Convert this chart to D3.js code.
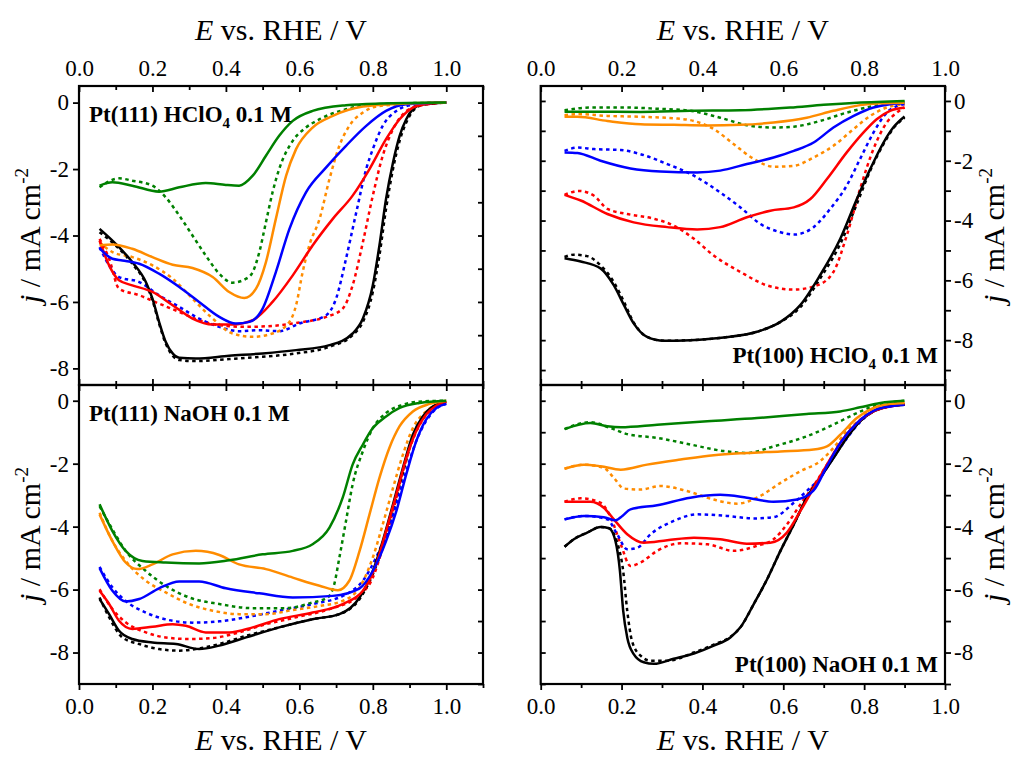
<!DOCTYPE html>
<html><head><meta charset="utf-8">
<script src="https://cdn.jsdelivr.net/npm/d3@7"></script>
<style>
body{margin:0;background:#fff}
svg{display:block}
text{font-family:"Liberation Serif","Times New Roman",serif;fill:#000}
</style>
</head><body>
<svg id="chart" width="1016" height="758"></svg>
<script>
// ---------------- DATA (E / V vs RHE , j / mA cm^-2) ----------------
// Pt(111) HClO4 0.1 M
const A_black   = [[0.056,-3.8],[0.1,-4.25],[0.145,-4.8],[0.182,-5.4],[0.2,-5.9],[0.218,-6.6],[0.236,-7.2],[0.255,-7.55],[0.273,-7.68],[0.318,-7.7],[0.409,-7.62],[0.5,-7.55],[0.591,-7.45],[0.682,-7.3],[0.745,-6.95],[0.773,-6.5],[0.8,-5.5],[0.818,-4.3],[0.836,-2.9],[0.855,-1.8],[0.873,-1.0],[0.891,-0.5],[0.909,-0.2],[0.936,-0.05],[1.0,0.0]];
const A_black_d = [[0.056,-3.9],[0.1,-4.3],[0.145,-4.85],[0.182,-5.45],[0.2,-5.95],[0.218,-6.65],[0.236,-7.25],[0.255,-7.62],[0.273,-7.75],[0.318,-7.78],[0.409,-7.72],[0.5,-7.65],[0.591,-7.55],[0.682,-7.35],[0.745,-7.0],[0.773,-6.6],[0.8,-5.7],[0.818,-4.6],[0.836,-3.2],[0.855,-2.0],[0.873,-1.15],[0.891,-0.6],[0.909,-0.25],[0.936,-0.07],[1.0,0.0]];
const A_red     = [[0.056,-4.15],[0.082,-4.9],[0.109,-5.35],[0.145,-5.5],[0.2,-5.7],[0.255,-6.1],[0.309,-6.5],[0.364,-6.68],[0.418,-6.68],[0.473,-6.55],[0.527,-6.0],[0.582,-5.2],[0.636,-4.3],[0.691,-3.5],[0.745,-2.8],[0.791,-2.0],[0.836,-1.1],[0.873,-0.5],[0.909,-0.15],[0.945,-0.04],[1.0,0.0]];
const A_red_d   = [[0.056,-4.1],[0.082,-4.7],[0.109,-5.6],[0.164,-5.8],[0.218,-6.05],[0.273,-6.3],[0.327,-6.55],[0.382,-6.7],[0.455,-6.75],[0.527,-6.72],[0.6,-6.62],[0.673,-6.45],[0.718,-6.2],[0.745,-5.5],[0.773,-4.2],[0.8,-2.8],[0.827,-1.6],[0.855,-0.8],[0.882,-0.35],[0.918,-0.12],[1.0,0.0]];
const A_blue    = [[0.056,-4.38],[0.091,-4.7],[0.118,-4.75],[0.164,-4.85],[0.218,-5.15],[0.273,-5.55],[0.327,-6.0],[0.382,-6.45],[0.427,-6.65],[0.464,-6.6],[0.5,-6.2],[0.536,-5.1],[0.573,-3.8],[0.618,-2.7],[0.673,-1.95],[0.727,-1.3],[0.782,-0.7],[0.836,-0.25],[0.891,-0.05],[1.0,0.0]];
const A_blue_d  = [[0.056,-4.35],[0.091,-5.05],[0.109,-5.25],[0.164,-5.4],[0.218,-5.8],[0.273,-6.15],[0.327,-6.5],[0.382,-6.75],[0.436,-6.88],[0.491,-6.85],[0.545,-6.88],[0.6,-6.65],[0.673,-6.4],[0.7,-5.9],[0.727,-4.7],[0.755,-3.3],[0.782,-2.0],[0.8,-1.4],[0.827,-0.7],[0.864,-0.25],[0.909,-0.07],[1.0,0.0]];
const A_orange  = [[0.056,-4.3],[0.091,-4.27],[0.145,-4.4],[0.2,-4.65],[0.255,-4.88],[0.309,-4.98],[0.364,-5.25],[0.409,-5.7],[0.45,-5.88],[0.482,-5.6],[0.509,-4.8],[0.536,-3.5],[0.564,-2.2],[0.591,-1.4],[0.636,-0.75],[0.691,-0.4],[0.773,-0.12],[0.864,-0.04],[1.0,0.0]];
const A_orange_d= [[0.056,-4.2],[0.091,-4.5],[0.145,-4.65],[0.2,-4.9],[0.255,-5.3],[0.309,-5.9],[0.364,-6.5],[0.418,-6.95],[0.473,-7.05],[0.527,-6.95],[0.573,-6.6],[0.591,-6.1],[0.609,-5.1],[0.627,-4.3],[0.655,-3.5],[0.682,-2.3],[0.709,-1.3],[0.736,-0.7],[0.773,-0.3],[0.818,-0.1],[1.0,0.0]];
const A_green   = [[0.056,-2.5],[0.091,-2.4],[0.145,-2.5],[0.218,-2.68],[0.273,-2.55],[0.345,-2.42],[0.4,-2.48],[0.436,-2.5],[0.473,-2.2],[0.509,-1.6],[0.545,-1.0],[0.582,-0.55],[0.636,-0.25],[0.727,-0.08],[0.818,-0.03],[1.0,0.0]];
const A_green_d = [[0.056,-2.55],[0.109,-2.28],[0.145,-2.35],[0.2,-2.5],[0.236,-2.85],[0.273,-3.4],[0.309,-4.0],[0.345,-4.6],[0.382,-5.15],[0.418,-5.42],[0.455,-5.3],[0.473,-5.1],[0.491,-4.5],[0.509,-3.6],[0.527,-2.7],[0.545,-2.0],[0.582,-1.15],[0.618,-0.75],[0.655,-0.5],[0.727,-0.2],[0.818,-0.05],[1.0,0.0]];

// Pt(100) HClO4 0.1 M
const B_black   = [[0.059,-5.26],[0.099,-5.37],[0.148,-5.6],[0.181,-6.17],[0.206,-6.83],[0.23,-7.44],[0.263,-7.89],[0.305,-8.02],[0.37,-8.0],[0.453,-7.91],[0.535,-7.72],[0.593,-7.39],[0.642,-6.83],[0.691,-5.83],[0.741,-4.61],[0.782,-3.28],[0.815,-2.28],[0.848,-1.39],[0.872,-0.89],[0.9,-0.52]];
const B_black_d = [[0.059,-5.22],[0.082,-5.14],[0.115,-5.19],[0.148,-5.5],[0.181,-6.06],[0.206,-6.72],[0.23,-7.41],[0.263,-7.89],[0.305,-8.02],[0.37,-8.0],[0.453,-7.91],[0.535,-7.72],[0.593,-7.39],[0.642,-6.9],[0.691,-5.94],[0.741,-4.78],[0.782,-3.44],[0.815,-2.33],[0.848,-1.44],[0.872,-0.92],[0.9,-0.56]];
const B_red     = [[0.059,-3.14],[0.099,-3.33],[0.165,-3.78],[0.23,-4.06],[0.313,-4.22],[0.387,-4.3],[0.444,-4.22],[0.51,-3.89],[0.568,-3.67],[0.626,-3.56],[0.667,-3.28],[0.708,-2.61],[0.757,-1.72],[0.798,-1.06],[0.831,-0.61],[0.864,-0.33],[0.9,-0.22]];
const B_red_d   = [[0.059,-3.14],[0.095,-3.01],[0.132,-3.17],[0.165,-3.61],[0.214,-3.78],[0.28,-3.94],[0.329,-4.17],[0.379,-4.61],[0.428,-5.17],[0.494,-5.72],[0.56,-6.17],[0.626,-6.31],[0.683,-6.17],[0.724,-5.72],[0.757,-4.5],[0.79,-2.94],[0.823,-1.61],[0.856,-0.72],[0.881,-0.39],[0.9,-0.22]];
const B_blue    = [[0.059,-1.72],[0.091,-1.74],[0.148,-2.0],[0.222,-2.26],[0.296,-2.36],[0.387,-2.39],[0.444,-2.33],[0.51,-2.11],[0.576,-1.89],[0.626,-1.67],[0.675,-1.39],[0.724,-0.89],[0.774,-0.5],[0.823,-0.22],[0.864,-0.11],[0.9,-0.08]];
const B_blue_d  = [[0.059,-1.67],[0.091,-1.56],[0.132,-1.61],[0.198,-1.64],[0.247,-1.78],[0.313,-2.11],[0.379,-2.5],[0.444,-3.06],[0.494,-3.56],[0.543,-4.11],[0.593,-4.39],[0.626,-4.47],[0.675,-4.22],[0.716,-3.61],[0.757,-2.83],[0.79,-1.94],[0.823,-1.06],[0.856,-0.39],[0.881,-0.17],[0.9,-0.11]];
const B_orange  = [[0.059,-0.53],[0.091,-0.53],[0.165,-0.67],[0.247,-0.78],[0.329,-0.8],[0.412,-0.82],[0.494,-0.8],[0.576,-0.72],[0.658,-0.56],[0.724,-0.33],[0.79,-0.14],[0.84,-0.08],[0.9,-0.06]];
const B_orange_d= [[0.059,-0.48],[0.091,-0.44],[0.165,-0.5],[0.247,-0.53],[0.329,-0.58],[0.379,-0.67],[0.428,-0.94],[0.477,-1.44],[0.527,-1.94],[0.576,-2.2],[0.626,-2.17],[0.675,-1.89],[0.724,-1.5],[0.774,-0.94],[0.815,-0.5],[0.856,-0.22],[0.9,-0.11]];
const B_green   = [[0.059,-0.36],[0.123,-0.36],[0.247,-0.37],[0.37,-0.33],[0.494,-0.31],[0.617,-0.22],[0.7,-0.13],[0.782,-0.06],[0.9,0.0]];
const B_green_d = [[0.059,-0.31],[0.123,-0.22],[0.206,-0.22],[0.288,-0.26],[0.37,-0.33],[0.444,-0.56],[0.51,-0.81],[0.576,-0.89],[0.626,-0.86],[0.691,-0.67],[0.757,-0.39],[0.823,-0.17],[0.9,-0.02]];

// Pt(111) NaOH 0.1 M
const C_black   = [[0.056,-6.3],[0.082,-6.78],[0.109,-7.31],[0.145,-7.57],[0.2,-7.68],[0.264,-7.73],[0.327,-7.89],[0.382,-7.78],[0.455,-7.52],[0.545,-7.2],[0.636,-6.94],[0.709,-6.78],[0.764,-6.25],[0.8,-5.41],[0.827,-4.46],[0.855,-3.29],[0.882,-2.13],[0.909,-1.08],[0.936,-0.5],[0.964,-0.18],[1.0,-0.04]];
const C_black_d = [[0.056,-6.25],[0.082,-6.88],[0.118,-7.52],[0.164,-7.73],[0.218,-7.89],[0.273,-7.94],[0.318,-7.89],[0.382,-7.73],[0.455,-7.47],[0.545,-7.2],[0.636,-6.94],[0.709,-6.78],[0.764,-6.3],[0.8,-5.51],[0.827,-4.67],[0.855,-3.51],[0.882,-2.29],[0.909,-1.18],[0.936,-0.55],[0.964,-0.21],[1.0,-0.05]];
const C_red     = [[0.056,-6.04],[0.082,-6.46],[0.109,-6.99],[0.145,-7.25],[0.2,-7.18],[0.255,-7.1],[0.291,-7.15],[0.345,-7.36],[0.409,-7.36],[0.473,-7.2],[0.545,-6.94],[0.636,-6.73],[0.718,-6.46],[0.773,-6.04],[0.809,-5.2],[0.836,-4.14],[0.864,-2.98],[0.891,-1.82],[0.918,-0.97],[0.945,-0.44],[0.973,-0.15],[1.0,-0.02]];
const C_red_d   = [[0.056,-5.99],[0.091,-6.62],[0.127,-7.04],[0.182,-7.36],[0.236,-7.52],[0.3,-7.57],[0.364,-7.54],[0.436,-7.36],[0.509,-7.1],[0.591,-6.88],[0.682,-6.62],[0.755,-6.25],[0.8,-5.62],[0.827,-4.67],[0.855,-3.51],[0.882,-2.24],[0.909,-1.24],[0.936,-0.6],[0.964,-0.23],[1.0,-0.04]];
const C_blue    = [[0.056,-5.32],[0.091,-6.04],[0.127,-6.38],[0.164,-6.3],[0.218,-5.96],[0.273,-5.74],[0.327,-5.74],[0.4,-5.96],[0.491,-6.12],[0.582,-6.25],[0.691,-6.2],[0.764,-5.96],[0.8,-5.41],[0.836,-4.46],[0.864,-3.51],[0.891,-2.34],[0.918,-1.29],[0.945,-0.6],[0.973,-0.23],[1.0,-0.1]];
const C_blue_d  = [[0.056,-5.28],[0.091,-5.93],[0.127,-6.36],[0.182,-6.73],[0.245,-6.97],[0.309,-7.05],[0.382,-7.01],[0.455,-6.88],[0.545,-6.67],[0.636,-6.46],[0.727,-6.15],[0.773,-5.72],[0.809,-4.98],[0.836,-4.24],[0.864,-3.29],[0.891,-2.24],[0.918,-1.29],[0.945,-0.65],[0.973,-0.25],[1.0,-0.1]];
const C_orange  = [[0.056,-3.61],[0.091,-4.46],[0.127,-5.14],[0.159,-5.35],[0.2,-5.2],[0.255,-4.88],[0.318,-4.77],[0.382,-4.9],[0.436,-5.2],[0.509,-5.35],[0.582,-5.62],[0.655,-5.88],[0.705,-6.02],[0.736,-5.72],[0.764,-4.77],[0.791,-3.61],[0.818,-2.45],[0.845,-1.5],[0.873,-0.81],[0.909,-0.34],[0.955,-0.1],[1.0,0.0]];
const C_orange_d= [[0.056,-3.56],[0.091,-4.46],[0.127,-5.09],[0.182,-5.72],[0.236,-6.09],[0.3,-6.46],[0.364,-6.67],[0.436,-6.78],[0.509,-6.78],[0.582,-6.65],[0.655,-6.52],[0.718,-6.36],[0.764,-5.93],[0.8,-4.98],[0.827,-3.93],[0.855,-2.77],[0.882,-1.71],[0.909,-0.87],[0.945,-0.34],[1.0,-0.03]];
const C_green   = [[0.056,-3.29],[0.091,-4.14],[0.127,-4.77],[0.173,-5.09],[0.236,-5.14],[0.327,-5.17],[0.409,-5.07],[0.5,-4.88],[0.582,-4.77],[0.636,-4.56],[0.682,-4.03],[0.718,-3.08],[0.745,-2.03],[0.773,-1.39],[0.8,-0.87],[0.836,-0.5],[0.873,-0.23],[0.927,-0.07],[1.0,0.0]];
const C_green_d = [[0.056,-3.35],[0.091,-4.09],[0.127,-4.77],[0.182,-5.41],[0.236,-5.88],[0.3,-6.25],[0.382,-6.46],[0.473,-6.59],[0.564,-6.59],[0.636,-6.41],[0.677,-6.25],[0.695,-5.83],[0.709,-4.98],[0.727,-3.82],[0.745,-2.66],[0.773,-1.6],[0.8,-0.87],[0.836,-0.39],[0.882,-0.13],[0.936,-0.02],[1.0,0.0]];

// Pt(100) NaOH 0.1 M
const D_black   = [[0.059,-4.64],[0.082,-4.4],[0.115,-4.19],[0.148,-4.01],[0.169,-4.05],[0.185,-4.46],[0.196,-5.41],[0.204,-6.67],[0.214,-7.52],[0.23,-8.05],[0.255,-8.31],[0.28,-8.36],[0.329,-8.2],[0.379,-8.03],[0.428,-7.78],[0.469,-7.52],[0.494,-7.2],[0.527,-6.46],[0.56,-5.67],[0.593,-4.77],[0.626,-3.93],[0.658,-3.08],[0.691,-2.45],[0.724,-1.82],[0.757,-1.18],[0.79,-0.65],[0.823,-0.34],[0.856,-0.19],[0.9,-0.13]];
const D_black_d = [[0.059,-4.64],[0.082,-4.4],[0.115,-4.19],[0.148,-4.01],[0.169,-4.05],[0.189,-4.5],[0.204,-5.41],[0.214,-6.67],[0.226,-7.64],[0.247,-8.1],[0.272,-8.26],[0.313,-8.26],[0.379,-8.0],[0.428,-7.75],[0.469,-7.5],[0.494,-7.2],[0.527,-6.46],[0.56,-5.67],[0.593,-4.77],[0.626,-3.93],[0.658,-3.08],[0.691,-2.45],[0.724,-1.82],[0.757,-1.18],[0.79,-0.65],[0.823,-0.34],[0.856,-0.19],[0.9,-0.13]];
const D_red     = [[0.059,-3.21],[0.123,-3.21],[0.156,-3.4],[0.181,-3.77],[0.214,-4.24],[0.255,-4.51],[0.313,-4.43],[0.379,-4.35],[0.444,-4.4],[0.51,-4.54],[0.568,-4.51],[0.609,-4.19],[0.642,-3.51],[0.675,-2.77],[0.708,-2.03],[0.741,-1.34],[0.782,-0.71],[0.823,-0.34],[0.864,-0.18],[0.9,-0.11]];
const D_red_d   = [[0.059,-3.21],[0.099,-3.1],[0.148,-3.24],[0.173,-3.7],[0.198,-4.56],[0.222,-5.25],[0.247,-5.14],[0.288,-4.77],[0.346,-4.53],[0.412,-4.56],[0.477,-4.77],[0.535,-4.61],[0.576,-4.4],[0.609,-3.93],[0.642,-3.3],[0.675,-2.7],[0.708,-2.03],[0.741,-1.34],[0.782,-0.71],[0.823,-0.34],[0.864,-0.18],[0.9,-0.11]];
const D_blue    = [[0.059,-3.77],[0.107,-3.66],[0.156,-3.7],[0.185,-3.8],[0.202,-3.66],[0.222,-3.45],[0.288,-3.32],[0.37,-3.08],[0.444,-2.99],[0.51,-3.08],[0.576,-3.21],[0.634,-3.14],[0.675,-2.85],[0.708,-2.08],[0.741,-1.34],[0.782,-0.71],[0.823,-0.32],[0.864,-0.18],[0.9,-0.13]];
const D_blue_d  = [[0.059,-3.77],[0.107,-3.66],[0.165,-3.77],[0.189,-4.24],[0.214,-4.72],[0.239,-4.67],[0.272,-4.24],[0.329,-3.82],[0.387,-3.61],[0.461,-3.66],[0.527,-3.74],[0.576,-3.7],[0.626,-3.24],[0.658,-2.87],[0.691,-2.45],[0.724,-1.82],[0.757,-1.2],[0.79,-0.68],[0.823,-0.33],[0.864,-0.18],[0.9,-0.13]];
const D_orange  = [[0.059,-2.16],[0.107,-2.03],[0.148,-2.08],[0.198,-2.19],[0.263,-2.03],[0.346,-1.87],[0.428,-1.73],[0.51,-1.66],[0.593,-1.61],[0.675,-1.55],[0.708,-1.45],[0.741,-1.08],[0.782,-0.55],[0.823,-0.23],[0.864,-0.1],[0.9,-0.07]];
const D_orange_d= [[0.059,-2.16],[0.107,-2.03],[0.156,-2.13],[0.181,-2.45],[0.206,-2.79],[0.247,-2.82],[0.296,-2.71],[0.362,-2.87],[0.428,-3.14],[0.486,-3.27],[0.535,-3.08],[0.593,-2.61],[0.642,-2.24],[0.691,-1.92],[0.724,-1.5],[0.757,-0.97],[0.79,-0.6],[0.823,-0.25],[0.864,-0.11],[0.9,-0.07]];
const D_green   = [[0.059,-0.9],[0.123,-0.71],[0.165,-0.81],[0.198,-0.84],[0.288,-0.76],[0.412,-0.65],[0.535,-0.55],[0.658,-0.42],[0.741,-0.34],[0.79,-0.21],[0.84,-0.07],[0.9,0.0]];
const D_green_d = [[0.059,-0.9],[0.123,-0.68],[0.173,-0.87],[0.214,-1.06],[0.288,-1.18],[0.37,-1.39],[0.453,-1.6],[0.51,-1.66],[0.576,-1.45],[0.658,-1.13],[0.724,-0.76],[0.774,-0.44],[0.823,-0.18],[0.9,0.0]];

// tick values / labels
const xMajorTicks = [0,0.2,0.4,0.6,0.8,1.0];
const xMinorLeft  = [0.1,0.3,0.5,0.7,0.9,1.1];
const xMinorRight = [0.1,0.3,0.5,0.7,0.9];
const yLabelTicks = [0,-2,-4,-6,-8];
const panelTitles = ["Pt(111) HClO|4| 0.1 M","Pt(100) HClO|4| 0.1 M","Pt(111) NaOH 0.1 M","Pt(100) NaOH 0.1 M"];
const xTitle = "E vs. RHE / V";

// ---------------- DRAWING ----------------
const COL = {black:"#000000", red:"#ff0000", blue:"#0000ff", orange:"#ff8c00", green:"#008000"};
const svg = d3.select("#chart");
svg.append("rect").attr("width",1016).attr("height",758).attr("fill","#fff");

function seriesList(b,r,bl,o,g,bd,rd,bld,od,gd){
  return [
    {d:bd,c:"black",dash:true},{d:rd,c:"red",dash:true},{d:bld,c:"blue",dash:true},{d:od,c:"orange",dash:true},{d:gd,c:"green",dash:true},
    {d:b,c:"black"},{d:r,c:"red"},{d:bl,c:"blue"},{d:o,c:"orange"},{d:g,c:"green"}
  ];
}

const panels = [
  {id:"A", x0:79, x1:483, y0:86, y1:385, xd:[0,1.1], yd:[-8.5,0.5], col:"left", row:"top",
   series:seriesList(A_black,A_red,A_blue,A_orange,A_green,A_black_d,A_red_d,A_blue_d,A_orange_d,A_green_d),
   title:panelTitles[0], tx:89, ty:122, anchor:"start"},
  {id:"B", x0:540.7, x1:945, y0:86, y1:385, xd:[0,1.0], yd:[-9.5,0.5], col:"right", row:"top",
   series:seriesList(B_black,B_red,B_blue,B_orange,B_green,B_black_d,B_red_d,B_blue_d,B_orange_d,B_green_d),
   title:panelTitles[1], tx:938, ty:363, anchor:"end"},
  {id:"C", x0:79, x1:483, y0:385, y1:684, xd:[0,1.1], yd:[-9,0.5], col:"left", row:"bottom",
   series:seriesList(C_black,C_red,C_blue,C_orange,C_green,C_black_d,C_red_d,C_blue_d,C_orange_d,C_green_d),
   title:panelTitles[2], tx:89, ty:421, anchor:"start"},
  {id:"D", x0:540.7, x1:945, y0:385, y1:684, xd:[0,1.0], yd:[-9,0.5], col:"right", row:"bottom",
   series:seriesList(D_black,D_red,D_blue,D_orange,D_green,D_black_d,D_red_d,D_blue_d,D_orange_d,D_green_d),
   title:panelTitles[3], tx:938, ty:672, anchor:"end"}
];

const TICKFS = 23;
function styleAxis(g){
  g.select(".domain").remove();
  g.selectAll(".tick line").attr("stroke","#000").attr("stroke-width",1.8);
  g.selectAll(".tick text").style("font-family","'Liberation Serif','Times New Roman',serif").style("font-size",TICKFS+"px").attr("fill","#000");
}
const yfmt = d => (d % 2 === 0) ? String(d) : "";

panels.forEach(p => {
  const x = d3.scaleLinear().domain(p.xd).range([p.x0,p.x1]);
  const y = d3.scaleLinear().domain(p.yd).range([p.y1,p.y0]);
  const g = svg.append("g");
  const clipId = "clip"+p.id;
  svg.append("clipPath").attr("id",clipId).append("rect")
    .attr("x",p.x0).attr("y",p.y0).attr("width",p.x1-p.x0).attr("height",p.y1-p.y0);
  const line = d3.line().x(d=>x(d[0])).y(d=>y(d[1])).curve(d3.curveMonotoneX);
  const lg = g.append("g").attr("clip-path",`url(#${clipId})`);
  p.series.forEach(s => {
    lg.append("path").attr("d",line(s.d)).attr("fill","none")
      .attr("stroke",COL[s.c]).attr("stroke-width",2.5)
      .attr("stroke-dasharray", s.dash ? "3.5,3.5" : null)
      .attr("stroke-linejoin","round");
  });

  const xMinor = p.col==="left" ? xMinorLeft : xMinorRight;
  const yAll = d3.range(Math.ceil(p.yd[0]), 0.001, 1);

  if (p.row==="top"){
    g.append("g").attr("transform",`translate(0,${p.y0})`).call(d3.axisBottom(x).tickValues(xMajorTicks).tickSize(6).tickFormat("")).call(styleAxis);
    g.append("g").attr("transform",`translate(0,${p.y0})`).call(d3.axisBottom(x).tickValues(xMinor).tickSize(4).tickFormat("")).call(styleAxis);
    g.append("g").attr("transform",`translate(0,${p.y0})`).call(d3.axisTop(x).tickValues(xMajorTicks).tickSize(0).tickPadding(10).tickFormat(d3.format(".1f"))).call(styleAxis);
    g.append("g").attr("transform",`translate(0,${p.y1})`).call(d3.axisTop(x).tickValues(xMajorTicks).tickSize(6).tickFormat("")).call(styleAxis);
    g.append("g").attr("transform",`translate(0,${p.y1})`).call(d3.axisTop(x).tickValues(xMinor).tickSize(4).tickFormat("")).call(styleAxis);
  } else {
    g.append("g").attr("transform",`translate(0,${p.y0})`).call(d3.axisBottom(x).tickValues(xMajorTicks).tickSize(6).tickFormat("")).call(styleAxis);
    g.append("g").attr("transform",`translate(0,${p.y0})`).call(d3.axisBottom(x).tickValues(xMinor).tickSize(4).tickFormat("")).call(styleAxis);
    const bx = g.append("g").attr("transform",`translate(0,${p.y1})`).call(d3.axisBottom(x).tickValues(xMajorTicks).tickSize(6).tickFormat(d3.format(".1f"))).call(styleAxis);
    bx.selectAll(".tick text").attr("y",30).attr("dy",0);
    g.append("g").attr("transform",`translate(0,${p.y1})`).call(d3.axisBottom(x).tickValues(xMinor).tickSize(4).tickFormat("")).call(styleAxis);
  }

  if (p.col==="left"){
    g.append("g").attr("transform",`translate(${p.x0},0)`).call(d3.axisLeft(y).tickValues(yLabelTicks).tickSize(6).tickPadding(4).tickFormat(d=>String(d))).call(styleAxis);
    g.append("g").attr("transform",`translate(${p.x1},0)`).call(d3.axisLeft(y).tickValues(yAll).tickSize(5).tickFormat("")).call(styleAxis);
  } else {
    g.append("g").attr("transform",`translate(${p.x0},0)`).call(d3.axisRight(y).tickValues(yAll).tickSize(5).tickFormat("")).call(styleAxis);
    g.append("g").attr("transform",`translate(${p.x1},0)`).call(d3.axisRight(y).tickValues(yAll).tickSize(6).tickPadding(3).tickFormat(yfmt)).call(styleAxis);
  }

  g.append("rect").attr("x",p.x0).attr("y",p.y0).attr("width",p.x1-p.x0).attr("height",p.y1-p.y0)
    .attr("fill","none").attr("stroke","#000").attr("stroke-width",2.2);

  const parts = p.title.split("|");
  const t = g.append("text").attr("x",p.tx).attr("y",p.ty).attr("text-anchor",p.anchor)
    .style("font-size","23px").style("font-weight","bold");
  parts.forEach((s,i)=>{
    if (i%2===1) t.append("tspan").text(s).style("font-size","15px").attr("dy",6);
    else t.append("tspan").text(s).attr("dy", i>0 ? -6 : 0);
  });

  const titleY = p.row==="top" ? 40 : 750;
  const xt = g.append("text").attr("x",(p.x0+p.x1)/2).attr("y",titleY).attr("text-anchor","middle").style("font-size","30px");
  xt.append("tspan").text("E").style("font-style","italic");
  xt.append("tspan").text(xTitle.slice(1));

  const yx = p.col==="left" ? 40 : 1004;
  const yc = (p.y0+p.y1)/2;
  const yt = g.append("text").attr("transform",`translate(${yx},${yc}) rotate(-90)`).attr("text-anchor","middle").style("font-size","30px");
  yt.append("tspan").text("j").style("font-style","italic");
  yt.append("tspan").text(" / mA cm");
  yt.append("tspan").text("-2").style("font-size","19px").attr("dy",-12);
});
</script>
</body></html>
